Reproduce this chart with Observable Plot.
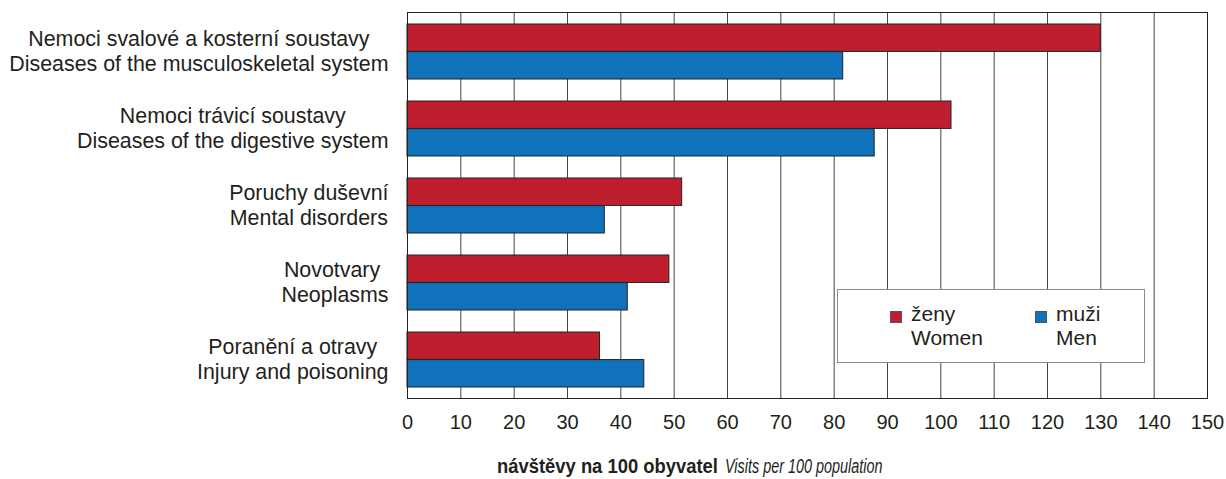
<!DOCTYPE html>
<html>
<head>
<meta charset="utf-8">
<script src="https://cdn.jsdelivr.net/npm/d3@7"></script>
<script src="https://cdn.jsdelivr.net/npm/@observablehq/plot@0.6"></script>
<style>
  body { margin: 0; background: #fff; }
  #wrap { position: relative; width: 1226px; height: 479px; font-family: "Liberation Sans", Arial, sans-serif; color: #231f20; overflow: hidden; }
  #legend { position: absolute; left: 837px; top: 289px; width: 306px; height: 72px; border: 1px solid #8a8a8a; background: #fff; }
  .sw { position: absolute; width: 10px; height: 10px; border: 1px solid #555; }
  .lt { position: absolute; font-size: 21px; line-height: 24px; white-space: pre; }
  #title { height: 39px; position: relative; }
  #title span { position: absolute; top: 15px; font-size: 20px; white-space: pre; transform-origin: 0 50%; }
  #title .b { left: 497px; font-weight: bold; transform: scaleX(0.92); }
  #title .i { left: 725px; font-style: italic; transform: scaleX(0.72); }
</style>
</head>
<body>
<div id="wrap">
  <div id="chart"></div>
  <div id="title"><span class="b">návštěvy na 100 obyvatel</span><span class="i">Visits per 100 population</span></div>
  <div id="legend"></div>
</div>
<script>
// ---- data ----
const categoriesCz = [
  "Nemoci svalové a kosterní soustavy",
  "Nemoci trávicí soustavy",
  "Poruchy duševní",
  "Novotvary ",
  "Poranění a otravy"
];
const categoriesEn = [
  "Diseases of the musculoskeletal system",
  "Diseases of the digestive system",
  "Mental disorders",
  "Neoplasms",
  "Injury and poisoning"
];
const women = [130, 102, 51.5, 49.1, 36.1];
const men = [81.7, 87.6, 37, 41.3, 44.4];
const xTicks = [0, 10, 20, 30, 40, 50, 60, 70, 80, 90, 100, 110, 120, 130, 140, 150];
const seriesCz = ["ženy", "muži"];
const seriesEn = ["Women", "Men"];
const seriesColors = ["#BE1E2D", "#1072BA"];

// ---- build table ----
const rows = categoriesEn.flatMap((c, i) => [
  {cat: c, series: "Women", value: women[i]},
  {cat: c, series: "Men", value: men[i]}
]);

const W = 1226, H = 440;
const mt = 12, mb = 42;
const nCat = categoriesEn.length;
const pInner = 2 / 7, pOuter = 1 / 7;
const step = (H - mt - mb) / (nCat - pInner + 2 * pOuter);
const half = step * (1 - pInner) / 2;

const labelFont = 21.4;
const ctx = document.createElement("canvas").getContext("2d");
ctx.font = `${labelFont}px "Liberation Sans", Arial, sans-serif`;
const blockWidth = categoriesEn.map((c, i) =>
  Math.max(ctx.measureText(categoriesCz[i]).width, ctx.measureText(categoriesEn[i]).width));

const labelMarks = categoriesEn.map((c, i) => Plot.text([c], {
  y: d => d,
  text: () => categoriesCz[i] + "\n" + categoriesEn[i],
  frameAnchor: "left",
  dx: -19 - blockWidth[i] / 2,
  dy: -2,
  textAnchor: "middle",
  lineAnchor: "middle",
  lineHeight: 1.17,
  fontSize: labelFont,
  fill: "#231f20"
}));

const chart = Plot.plot({
  width: W,
  height: H,
  marginLeft: 407,
  marginRight: 19,
  marginTop: mt,
  marginBottom: mb,
  style: { fontFamily: "'Liberation Sans', Arial, sans-serif", fontSize: "20px", color: "#231f20", background: "#fff", overflow: "visible" },
  x: { domain: [0, 150], ticks: xTicks, tickSize: 0, tickPadding: 16, label: null, tickFormat: d => String(d) },
  y: { domain: categoriesEn, paddingInner: pInner, paddingOuter: pOuter, axis: null },
  marks: [
    Plot.ruleX(xTicks, { x: d => d, stroke: "#444", strokeWidth: 1 }),
    Plot.barX(rows.filter(d => d.series === "Women"), { x: "value", y: "cat", fill: seriesColors[0], stroke: "#222", strokeWidth: 1, insetBottom: half }),
    Plot.barX(rows.filter(d => d.series === "Men"), { x: "value", y: "cat", fill: seriesColors[1], stroke: "#222", strokeWidth: 1, insetTop: half }),
    Plot.frame({ stroke: "#222", strokeWidth: 1 }),
    ...labelMarks
  ]
});
document.getElementById("chart").appendChild(chart);

// ---- legend ----
const legend = document.getElementById("legend");
const legendPos = [52, 197];
seriesCz.forEach((s, i) => {
  const sw = document.createElement("div");
  sw.className = "sw";
  sw.style.left = legendPos[i] + "px";
  sw.style.top = "21px";
  sw.style.background = seriesColors[i];
  legend.appendChild(sw);
  const t = document.createElement("div");
  t.className = "lt";
  t.style.left = (legendPos[i] + 21) + "px";
  t.style.top = "12px";
  t.textContent = s + "\n" + seriesEn[i];
  legend.appendChild(t);
});
</script>
</body>
</html>
